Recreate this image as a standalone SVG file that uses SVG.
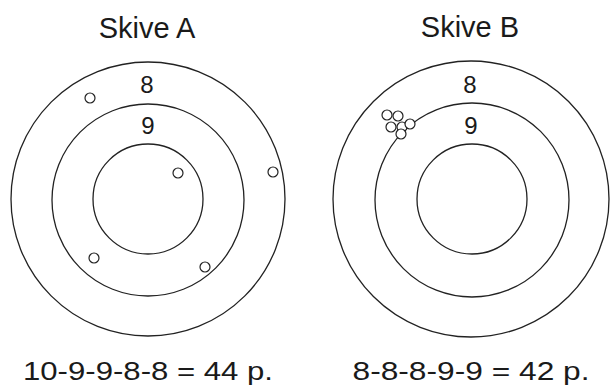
<svg xmlns="http://www.w3.org/2000/svg" width="610" height="385" viewBox="0 0 610 385">
<style>
.ring{fill:none;stroke:#222;stroke-width:1.3}
.hole{fill:#fff;stroke:#222;stroke-width:1.2}
.t{font-family:"Liberation Sans",Arial,sans-serif;fill:#1a1a1a;text-anchor:middle}
.title{font-size:29px}
.num{font-size:24px}
.score{font-size:26px}
</style>
<rect width="610" height="385" fill="#fff"/>
<g id="targetA">
  <circle class="ring" cx="148" cy="199" r="137"/>
  <circle class="ring" cx="148" cy="200" r="96"/>
  <circle class="ring" cx="148" cy="199" r="55"/>
  <text class="t title" x="147" y="38">Skive A</text>
  <text class="t num" x="147" y="93">8</text>
  <text class="t num" x="148" y="134">9</text>
  <g id="holesA">
    <circle class="hole" cx="90" cy="98" r="5"/>
    <circle class="hole" cx="178" cy="173" r="5"/>
    <circle class="hole" cx="273" cy="172" r="5"/>
    <circle class="hole" cx="94" cy="258" r="5"/>
    <circle class="hole" cx="205" cy="267" r="5"/>
  </g>
  <text class="t score" x="148" y="380" textLength="250" lengthAdjust="spacingAndGlyphs">10-9-9-8-8 = 44 p.</text>
</g>
<g id="targetB">
  <circle class="ring" cx="471" cy="199" r="138"/>
  <circle class="ring" cx="472" cy="200" r="97"/>
  <circle class="ring" cx="472" cy="199" r="55"/>
  <text class="t title" x="470" y="37">Skive B</text>
  <text class="t num" x="470" y="93">8</text>
  <text class="t num" x="471" y="134">9</text>
  <g id="holesB">
    <circle class="hole" cx="387" cy="115" r="5"/>
    <circle class="hole" cx="398" cy="116" r="5"/>
    <circle class="hole" cx="391" cy="127" r="5"/>
    <circle class="hole" cx="402" cy="127" r="5"/>
    <circle class="hole" cx="410" cy="124" r="5"/>
    <circle class="hole" cx="401" cy="134" r="5"/>
  </g>
  <text class="t score" x="471" y="380" textLength="237" lengthAdjust="spacingAndGlyphs">8-8-8-9-9 = 42 p.</text>
</g>
</svg>
